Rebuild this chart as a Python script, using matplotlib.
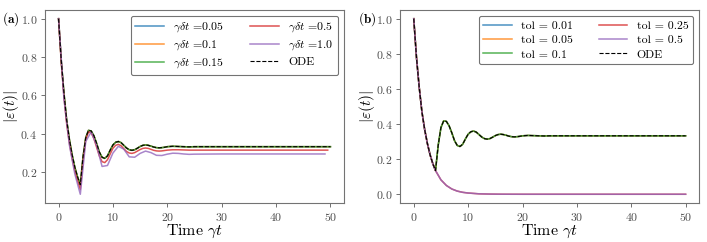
import matplotlib
matplotlib.use("Agg")
import matplotlib.pyplot as plt

plt.rcParams.update({
    "font.family": "serif",
    "font.serif": ["cmr10", "DejaVu Serif"],
    "mathtext.fontset": "cm",
    "axes.formatter.use_mathtext": True,
    "axes.unicode_minus": False,
})

# ---------------- data ----------------
t_fine = [0, 0.5, 1, 1.5, 2, 2.5, 3, 3.5, 4, 4.5, 5, 5.5, 6, 6.5, 7, 7.5, 8, 8.5,
          9, 9.5, 10, 10.5, 11, 11.5, 12, 12.5, 13, 13.5, 14, 14.5, 15, 15.5, 16,
          16.5, 17, 17.5, 18, 18.5, 19, 19.5, 20, 21, 22, 23, 24, 25, 27, 30, 35,
          40, 45, 50]
ode = [1.0, 0.78, 0.61, 0.47, 0.37, 0.29, 0.225, 0.175, 0.135,
       0.28, 0.38, 0.418, 0.415, 0.39, 0.35, 0.305, 0.278, 0.272, 0.285, 0.315,
       0.342, 0.356, 0.36, 0.354, 0.34, 0.326, 0.317, 0.314, 0.317, 0.325, 0.334,
       0.34, 0.342, 0.34, 0.336, 0.331, 0.328, 0.327, 0.328, 0.33, 0.333,
       0.335, 0.334, 0.333, 0.332, 0.333, 0.333, 0.333, 0.333, 0.333, 0.333, 0.333]

# panel (a): time-step study
a_labels = [r"$\gamma\delta t$ =0.05", r"$\gamma\delta t$ =0.1", r"$\gamma\delta t$ =0.15",
            r"$\gamma\delta t$ =0.5", r"$\gamma\delta t$ =1.0"]
dt005 = list(ode)
dt01 = list(ode)
dt015 = list(ode)
t_dt05 = t_fine[:-1] + [49.5]
dt05 = [1.0, 0.77, 0.59, 0.45, 0.35, 0.27, 0.205, 0.155, 0.11,
        0.26, 0.37, 0.41, 0.405, 0.375, 0.33, 0.285, 0.255, 0.25, 0.265, 0.295,
        0.325, 0.34, 0.345, 0.338, 0.322, 0.308, 0.3, 0.298, 0.302, 0.31, 0.318,
        0.324, 0.326, 0.324, 0.319, 0.314, 0.311, 0.31, 0.311, 0.313, 0.315,
        0.317, 0.317, 0.316, 0.315, 0.315, 0.315, 0.315, 0.315, 0.315, 0.315, 0.315]
t_dt1 = [0, 1, 2, 3, 4, 5, 6, 7, 8, 9, 10, 11, 12, 13, 14, 15, 16, 17, 18, 19,
         20, 21, 22, 23, 24, 25, 30, 35, 40, 45, 49]
dt1 = [1.0, 0.58, 0.34, 0.19, 0.085, 0.36, 0.41, 0.34, 0.23, 0.235, 0.30, 0.335,
       0.32, 0.28, 0.278, 0.298, 0.31, 0.302, 0.288, 0.287, 0.294, 0.299, 0.298,
       0.295, 0.293, 0.294, 0.295, 0.295, 0.295, 0.295, 0.295]

# panel (b): tolerance study
b_labels = ["tol = 0.01", "tol = 0.05", "tol = 0.1", "tol = 0.25", "tol = 0.5"]
t_low = [0, 0.5, 1, 1.5, 2, 2.5, 3, 3.5, 4, 5, 6, 7, 8, 9, 10, 12, 14, 16, 18,
         20, 25, 30, 40, 50]
low = [1.0, 0.78, 0.61, 0.47, 0.37, 0.29, 0.225, 0.175, 0.135, 0.082, 0.05,
       0.03, 0.018, 0.011, 0.007, 0.0025, 0.001, 0.0003, 0.0001, 0, 0, 0, 0, 0]
tol001 = list(ode)
tol005 = list(ode)
tol01 = list(ode)
tol025 = list(low)
tol05 = list(low)

colors = ["#1f77b4", "#ff7f0e", "#2ca02c", "#d62728", "#9467bd"]

# ---------------- figure ----------------
fig = plt.figure(figsize=(7.07, 2.42), dpi=100)
axA = fig.add_axes([0.0636, 0.161, 0.423, 0.798])
axB = fig.add_axes([0.566, 0.161, 0.423, 0.798])

lw = 1.1
seriesA = [(t_fine, dt005), (t_fine, dt01), (t_fine, dt015), (t_dt05, dt05), (t_dt1, dt1)]
for (tt, yy), c, lab in zip(seriesA, colors, a_labels):
    axA.plot(tt, yy, color=c, lw=lw, label=lab, alpha=0.8)
axA.plot(t_fine, ode, "k--", lw=0.8, label="ODE")

seriesB = [(t_fine, tol001), (t_fine, tol005), (t_fine, tol01), (t_low, tol025), (t_low, tol05)]
for (tt, yy), c, lab in zip(seriesB, colors, b_labels):
    axB.plot(tt, yy, color=c, lw=lw, label=lab, alpha=0.8)
axB.plot(t_fine, ode, "k--", lw=0.8, label="ODE")

for ax, tag in [(axA, "(a)"), (axB, "(b)")]:
    ax.set_xticks([0, 10, 20, 30, 40, 50])
    ax.set_xlabel(r"Time $\gamma t$", fontsize=11.5, labelpad=0)
    ax.set_ylabel(r"$|\varepsilon(t)|$", fontsize=11)
    ax.yaxis.set_label_coords(-0.079, 0.5)
    ax.tick_params(labelsize=8.5, colors="0.35", labelcolor="0.3", length=3,
                   width=0.6, pad=2.5)
    for s in ax.spines.values():
        s.set_color("0.45")
        s.set_linewidth(0.8)
    leg = ax.legend(ncol=2, loc="upper right", fontsize=8.5, handlelength=2.4,
                    columnspacing=2.2, labelspacing=0.35, framealpha=1,
                    edgecolor="0.45", borderpad=0.4)
    leg.get_frame().set_linewidth(0.8)
    ax.text(-0.142, 0.95, r"$\mathbf{" + tag + "}$", transform=ax.transAxes,
            fontsize=9.5, va="center", ha="left")

axA.set_yticks([0.2, 0.4, 0.6, 0.8, 1.0])
axB.set_yticks([0.0, 0.2, 0.4, 0.6, 0.8, 1.0])

fig.savefig("out.png", dpi=100)
